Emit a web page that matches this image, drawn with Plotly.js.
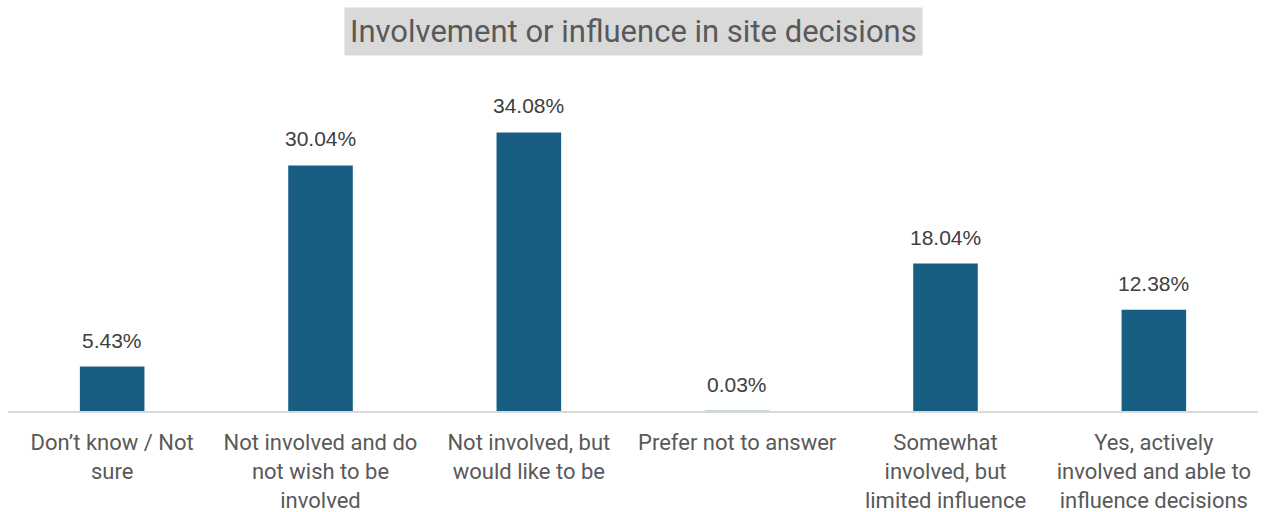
<!DOCTYPE html>
<html><head><meta charset="utf-8">
<script src="https://cdn.plot.ly/plotly-3.0.1.min.js"></script>
<style>html,body{margin:0;padding:0;background:#fff}#chart{width:1265px;height:512px}</style>
</head><body><div id="chart"></div>
<script>
const categories = ["Don’t know / Not<br>sure", "Not involved and do<br>not wish to be<br>involved", "Not involved, but<br>would like to be", "Prefer not to answer", "Somewhat<br>involved, but<br>limited influence", "Yes, actively<br>involved and able to<br>influence decisions"];
const values = [5.43, 30.04, 34.08, 0.03, 18.04, 12.38];
const labels = values.map(v => v.toFixed(2) + "%");
const chartTitle = "Involvement or influence in site decisions";

const labelAnnotations = categories.map((c, i) => ({
  x: c, y: values[i], xref: "x", yref: "y",
  text: labels[i], showarrow: false, xanchor: "center", yanchor: "bottom", yshift: 13,
  font: {family: "Liberation Sans, Arial, sans-serif", size: 21, color: "#404040"}
}));

Plotly.newPlot("chart", [{
  type: "bar",
  x: categories,
  y: values,
  marker: {color: "#175E82", line: {width: 0}},
  width: 0.31,
  hoverinfo: "none"
}], {
  width: 1265, height: 512,
  margin: {l: 8, r: 7, t: 84, b: 101},
  paper_bgcolor: "#fff", plot_bgcolor: "#fff",
  showlegend: false,
  xaxis: {
    showline: true, linecolor: "#D9D9D9", linewidth: 2,
    ticks: "", showgrid: false,
    tickfont: {family: "Roboto, Arial, sans-serif", size: 22, color: "#595959"},
    tickangle: 0, automargin: false, ticklabelstandoff: 11
  },
  yaxis: {range: [0, 40], visible: false, showgrid: false, zeroline: false},
  annotations: labelAnnotations.concat([{
    text: chartTitle, xref: "paper", yref: "paper", x: 0.5, y: 1, yshift: 53,
    xanchor: "center", yanchor: "middle", showarrow: false,
    bgcolor: "#D9D9D9", borderpad: 5,
    font: {family: "Roboto, Arial, sans-serif", size: 31, color: "#595959"}
  }])
}, {staticPlot: true});
</script></body></html>
